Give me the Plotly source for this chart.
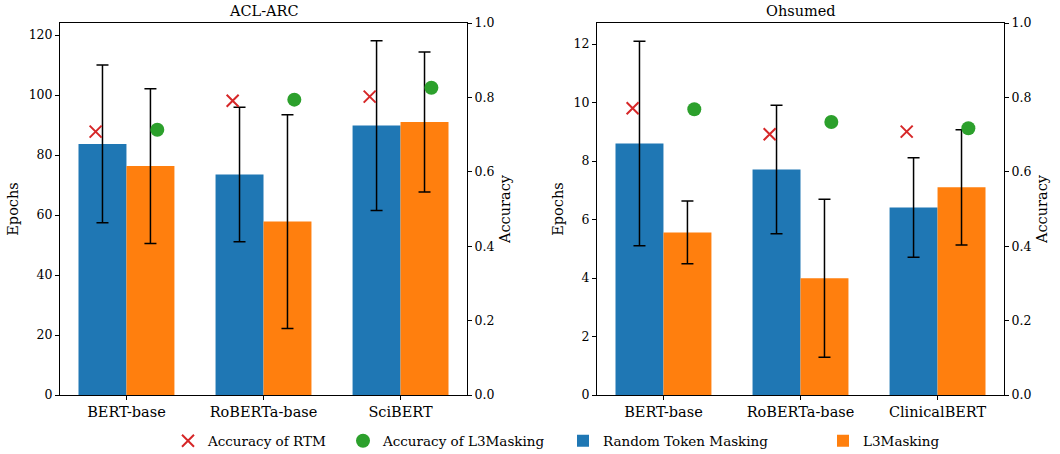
import plotly.graph_objects as go

# ---------------- data ----------------
acl_models = ["BERT-base", "RoBERTa-base", "SciBERT"]
acl_rtm_epochs = [83.7, 73.5, 89.8]
acl_rtm_err = [26.3, 22.4, 28.3]
acl_l3_epochs = [76.3, 57.8, 91.0]
acl_l3_err = [25.8, 35.6, 23.3]
acl_rtm_acc = [0.708, 0.791, 0.802]
acl_l3_acc = [0.713, 0.794, 0.826]

ohs_models = ["BERT-base", "RoBERTa-base", "ClinicalBERT"]
ohs_rtm_epochs = [8.6, 7.71, 6.41]
ohs_rtm_err = [3.5, 2.2, 1.7]
ohs_l3_epochs = [5.56, 3.99, 7.1]
ohs_l3_err = [1.07, 2.7, 1.97]
ohs_rtm_acc = [0.771, 0.701, 0.708]
ohs_l3_acc = [0.768, 0.734, 0.717]

panel_titles = ["ACL-ARC", "Ohsumed"]
left_ticks = [0, 20, 40, 60, 80, 100, 120]
right_ticks = [0, 2, 4, 6, 8, 10, 12]
acc_ticks = [0.0, 0.2, 0.4, 0.6, 0.8, 1.0]

# ---------------- style ----------------
FONT = "DejaVu Serif"
BLUE = "#1f77b4"
ORANGE = "#ff7f0e"
RED = "#d62728"
GREEN = "#2ca02c"
W, H = 1060, 454


def f(size):
    return dict(family=FONT, size=size, color="black")


fig = go.Figure()


def add_panel(models, rtm_e, rtm_err, l3_e, l3_err, rtm_acc, l3_acc, xa, ya, ya2, show):
    fig.add_trace(go.Bar(x=models, y=rtm_e, name="Random Token Masking",
                         marker=dict(color=BLUE, line=dict(width=0)),
                         error_y=dict(type="data", array=rtm_err, color="black", thickness=1.5, width=6),
                         xaxis=xa, yaxis=ya, offsetgroup="a", legend="legend3", showlegend=show))
    fig.add_trace(go.Bar(x=models, y=l3_e, name="L3Masking",
                         marker=dict(color=ORANGE, line=dict(width=0)),
                         error_y=dict(type="data", array=l3_err, color="black", thickness=1.5, width=6),
                         xaxis=xa, yaxis=ya, offsetgroup="b", legend="legend4", showlegend=show))
    fig.add_trace(go.Scatter(x=models, y=rtm_acc, name="Accuracy of RTM", mode="markers",
                             marker=dict(symbol="x-thin", size=12, color=RED, line=dict(color=RED, width=2)),
                             xaxis=xa, yaxis=ya2, offsetgroup="a", legend="legend", showlegend=show))
    fig.add_trace(go.Scatter(x=models, y=l3_acc, name="Accuracy of L3Masking", mode="markers",
                             marker=dict(symbol="circle", size=14, color=GREEN),
                             xaxis=xa, yaxis=ya2, offsetgroup="b", legend="legend2", showlegend=show))


add_panel(acl_models, acl_rtm_epochs, acl_rtm_err, acl_l3_epochs, acl_l3_err,
          acl_rtm_acc, acl_l3_acc, "x", "y", "y2", True)
add_panel(ohs_models, ohs_rtm_epochs, ohs_rtm_err, ohs_l3_epochs, ohs_l3_err,
          ohs_rtm_acc, ohs_l3_acc, "x2", "y3", "y4", False)

x1 = [60 / W, 467 / W]
x2 = [597 / W, 1004 / W]
yd = [(H - 395) / H, (H - 23) / H]

axline = dict(showline=True, linecolor="black", linewidth=1, ticks="outside",
              ticklen=4, tickwidth=1, tickcolor="black", showgrid=False, zeroline=False)

xcommon = dict(axline, range=[-0.485, 2.485], mirror=True, tickfont=f(14.5))
ycommon = dict(axline, tickfont=f(12.5))
ttl = lambda t: dict(text=t, font=f(14.5), standoff=6)
leg = lambda px: dict(x=px / W, y=(H - 441) / H, xanchor="left", yanchor="middle",
                      bgcolor="rgba(0,0,0,0)", font=f(13.5))

fig.update_layout(
    width=W, height=H, template="none",
    font=f(13),
    paper_bgcolor="white", plot_bgcolor="white",
    margin=dict(l=0, r=0, t=0, b=0, autoexpand=False),
    barmode="group", bargap=0.3, bargroupgap=0,
    scattermode="group", scattergap=0.1,
    xaxis=dict(xcommon, domain=x1, anchor="y"),
    yaxis=dict(ycommon, domain=yd, anchor="x", range=[0, 124.0], tickvals=left_ticks,
               title=ttl("Epochs")),
    yaxis2=dict(ycommon, overlaying="y", anchor="x", side="right", range=[0, 1],
                tickvals=acc_ticks, tickformat=".1f", title=ttl("Accuracy")),
    xaxis2=dict(xcommon, domain=x2, anchor="y3"),
    yaxis3=dict(ycommon, domain=yd, anchor="x2", range=[0, 12.72], tickvals=right_ticks,
                title=ttl("Epochs")),
    yaxis4=dict(ycommon, overlaying="y3", anchor="x2", side="right", range=[0, 1],
                tickvals=acc_ticks, tickformat=".1f", title=ttl("Accuracy")),
    legend=leg(168),
    legend2=leg(343),
    legend3=leg(563),
    legend4=leg(823),
)

for title, dom in zip(panel_titles, [x1, x2]):
    fig.add_annotation(text=title, x=(dom[0] + dom[1]) / 2, y=yd[1], xref="paper", yref="paper",
                       xanchor="center", yanchor="bottom", yshift=2, showarrow=False,
                       font=f(14.5))

fig.write_html("out.html", config={"displayModeBar": False},
               post_script="document.body.style.margin='0px';")
